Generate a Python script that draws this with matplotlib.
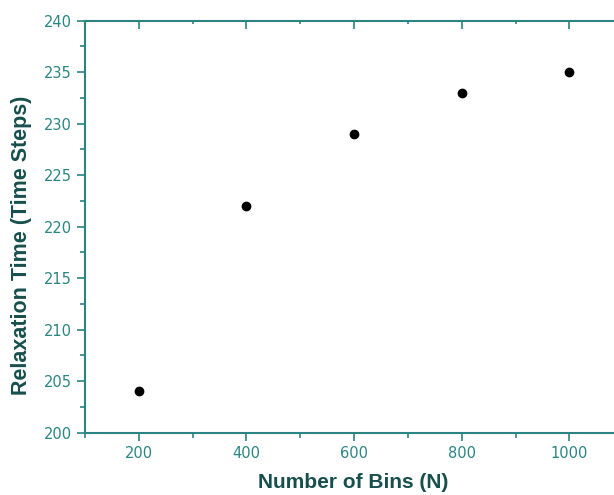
import matplotlib
matplotlib.use("Agg")
import matplotlib.pyplot as plt
from matplotlib.ticker import MultipleLocator

bins = [200, 400, 600, 800, 1000]
relax_time = [204, 222, 229, 233, 235]
xlabel = "Number of Bins (N)"
ylabel = "Relaxation Time (Time Steps)"

teal = "#2a8582"
dark = "#174f4d"

W, H = 614, 495
fig = plt.figure(figsize=(W/100, H/100), dpi=100)
ax = fig.add_axes([85/W, 1 - 432.7/H, 1 - 85/W, (432.7 - 20.7)/H])

ax.plot(bins, relax_time, "o", color="black", markersize=6)

ax.set_xlim(100, 1083)
ax.set_ylim(200, 240)
ax.xaxis.set_major_locator(MultipleLocator(200))
ax.xaxis.set_minor_locator(MultipleLocator(100))
ax.yaxis.set_major_locator(MultipleLocator(5))
ax.yaxis.set_minor_locator(MultipleLocator(2.5))

for s in ["left", "bottom", "top"]:
    ax.spines[s].set_color(teal)
    ax.spines[s].set_linewidth(1.5)
ax.spines["right"].set_visible(False)

ax.tick_params(axis="both", which="major", direction="out", length=6, width=1.2,
               color=teal, labelcolor=teal, labelsize=10.5)
ax.tick_params(axis="both", which="minor", direction="out", length=3.5, width=1.2, color=teal)
ax.tick_params(axis="x", which="both", top=True)
# top ticks point inward
for t in ax.xaxis.get_major_ticks():
    t.tick2line.set_marker(3)
for t in ax.xaxis.get_minor_ticks():
    t.tick2line.set_marker(3)
    t.tick2line.set_markersize(2)

for lab in ax.get_xticklabels() + ax.get_yticklabels():
    lab.set_family("DejaVu Sans")

fig.text(353/W, 1 - 483/H, xlabel, fontsize=15, fontweight="bold", color=dark,
         family="Liberation Sans", ha="center", va="center")
fig.text(22/W, 1 - 245/H, ylabel, fontsize=15.5, fontweight="bold", color=dark,
         family="Liberation Sans", ha="center", va="center", rotation=90)

fig.savefig("out.png", dpi=100)
